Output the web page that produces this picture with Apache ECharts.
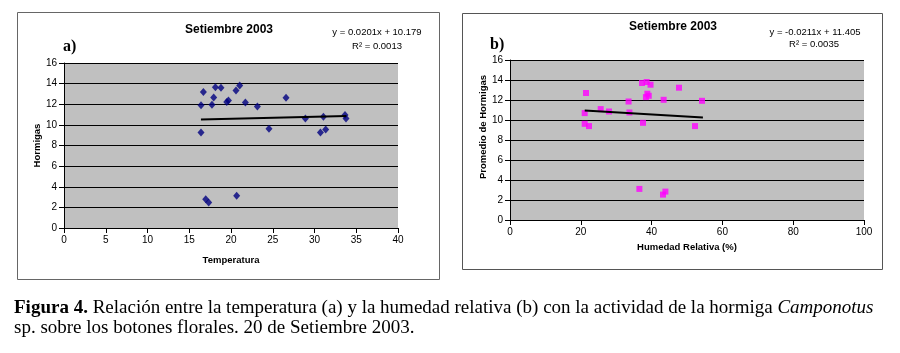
<!DOCTYPE html>
<html>
<head>
<meta charset="utf-8">
<script src="https://cdn.jsdelivr.net/npm/echarts@6/dist/echarts.min.js"></script>
<style>
  html, body { margin: 0; padding: 0; background: #fff; }
  #main { width: 900px; height: 353px; }
</style>
</head>
<body>
<div id="main"></div>
<script>
// a) temperatura vs hormigas
const tempPoints = [
  [16.41, 11.91], [16.69, 13.2], [16.41, 9.27], [17.72, 11.94], [17.93, 12.66],
  [18.13, 13.65], [18.8, 13.59], [19.49, 12.23], [19.69, 12.37], [20.6, 13.33],
  [21.04, 13.82], [21.72, 12.17], [23.16, 11.79], [24.55, 9.62], [26.59, 12.62],
  [28.91, 10.63], [31.07, 10.78], [30.71, 9.27], [31.34, 9.56], [33.65, 10.95],
  [33.77, 10.63], [16.97, 2.8], [17.33, 2.48], [20.68, 3.12]
];
const tempTrend = [[16.4, 10.51], [33.8, 10.86]];

// b) humedad relativa vs promedio de hormigas
const humPoints = [
  [21.47, 12.7], [21.1, 10.69], [21.1, 9.62], [22.32, 9.39], [25.62, 11.09],
  [27.97, 10.85], [33.5, 11.85], [33.73, 10.75], [37.3, 13.7], [37.57, 9.72],
  [38.6, 13.8], [39.7, 13.53], [38.8, 12.63], [39.2, 12.42], [38.4, 12.29],
  [43.4, 12.02], [47.74, 13.23], [52.26, 9.39], [54.24, 11.92], [36.55, 3.11],
  [43.22, 2.54], [43.9, 2.84]
];
const humTrend = [[21.1, 10.96], [54.5, 10.26]];

const yTicks = { min: 0, max: 16, interval: 2 };
const tempTicks = { min: 0, max: 40, interval: 5 };
const humTicks = { min: 0, max: 100, interval: 20 };

const sans = 'Liberation Sans, Arial, sans-serif';
const serif = 'Liberation Serif, Times New Roman, serif';

function valAxis(gridIndex, ticks, name, gap) {
  return {
    type: 'value', gridIndex: gridIndex,
    min: ticks.min, max: ticks.max, interval: ticks.interval,
    name: name, nameLocation: 'middle', nameGap: gap,
    nameTextStyle: { fontFamily: sans, fontWeight: 'bold', fontSize: 9.5, color: '#000' },
    axisLine: { show: true, lineStyle: { color: '#000', width: 1 } },
    axisTick: { show: true, length: 5, lineStyle: { color: '#000' } },
    axisLabel: { fontFamily: sans, fontSize: 10, color: '#000', margin: 7 },
    splitLine: { show: false }
  };
}

const chart = echarts.init(document.getElementById('main'));

let xa1 = valAxis(0, tempTicks, 'Temperatura', 27);
let xa2 = valAxis(1, humTicks, 'Humedad Relativa (%)', 22);
let ya1 = valAxis(0, yTicks, 'Hormigas', 22);
let ya2 = valAxis(1, yTicks, 'Promedio de Hormigas', 22);
ya1.splitLine = { show: true, lineStyle: { color: '#000', width: 1 } };
ya2.splitLine = { show: true, lineStyle: { color: '#000', width: 1 } };
ya2.nameTextStyle.padding = [0, 0, 0, 26];

let option = {
  backgroundColor: '#fff',
  animation: false,
  grid: [
    { left: 64, top: 63, width: 334, height: 165, show: true, backgroundColor: '#c0c0c0', borderWidth: 0 },
    { left: 510, top: 60, width: 354, height: 160, show: true, backgroundColor: '#c0c0c0', borderWidth: 0 }
  ],
  xAxis: [xa1, xa2],
  yAxis: [ya1, ya2],
  series: [
    {
      type: 'scatter', xAxisIndex: 0, yAxisIndex: 0,
      symbol: 'diamond', symbolSize: [7, 8],
      itemStyle: { color: '#000080' },
      data: tempPoints
    },
    {
      type: 'line', xAxisIndex: 0, yAxisIndex: 0,
      symbol: 'none', lineStyle: { color: '#000', width: 2 },
      data: tempTrend
    },
    {
      type: 'scatter', xAxisIndex: 1, yAxisIndex: 1,
      symbol: 'rect', symbolSize: 6,
      itemStyle: { color: '#ff00ff' },
      data: humPoints
    },
    {
      type: 'line', xAxisIndex: 1, yAxisIndex: 1,
      symbol: 'none', lineStyle: { color: '#000', width: 2 },
      data: humTrend
    }
  ],
  graphic: [
    // marcos
    { type: 'rect', shape: { x: 17.5, y: 12.5, width: 422, height: 267 }, style: { fill: null, stroke: '#666', lineWidth: 1 }, z: -1 },
    { type: 'rect', shape: { x: 462.5, y: 13.5, width: 420, height: 256 }, style: { fill: null, stroke: '#555', lineWidth: 1 }, z: -1 },
    // titulos
    { type: 'text', x: 229, y: 30, style: { text: 'Setiembre 2003', font: 'bold 12px ' + sans, fill: '#000', textAlign: 'center', textVerticalAlign: 'middle' } },
    { type: 'text', x: 673, y: 27, style: { text: 'Setiembre 2003', font: 'bold 12px ' + sans, fill: '#000', textAlign: 'center', textVerticalAlign: 'middle' } },
    { type: 'text', x: 63, y: 47, style: { text: 'a)', font: 'bold 16px ' + serif, fill: '#000', textVerticalAlign: 'middle' } },
    { type: 'text', x: 490, y: 45, style: { text: 'b)', font: 'bold 16px ' + serif, fill: '#000', textVerticalAlign: 'middle' } },
    // ecuaciones
    { type: 'text', x: 377, y: 32, style: { text: 'y = 0.0201x + 10.179', font: '9.5px ' + sans, fill: '#000', textAlign: 'center', textVerticalAlign: 'middle' } },
    { type: 'text', x: 377, y: 46, style: { text: 'R² = 0.0013', font: '9.5px ' + sans, fill: '#000', textAlign: 'center', textVerticalAlign: 'middle' } },
    { type: 'text', x: 815, y: 32, style: { text: 'y = -0.0211x + 11.405', font: '9.5px ' + sans, fill: '#000', textAlign: 'center', textVerticalAlign: 'middle' } },
    { type: 'text', x: 814, y: 44, style: { text: 'R² = 0.0035', font: '9.5px ' + sans, fill: '#000', textAlign: 'center', textVerticalAlign: 'middle' } },
    // pie de figura
    {
      type: 'text', x: 14, y: 308,
      style: {
        text: '{b|Figura 4.} Relación entre la temperatura (a) y la humedad relativa (b) con la actividad de la hormiga {i|Camponotus}',
        font: '19px ' + serif, fill: '#000', textVerticalAlign: 'middle',
        rich: {
          b: { fontFamily: serif, fontWeight: 'bold', fontSize: 19 },
          i: { fontFamily: serif, fontStyle: 'italic', fontSize: 19 }
        }
      }
    },
    { type: 'text', x: 14, y: 328, style: { text: 'sp. sobre los botones florales. 20 de Setiembre 2003.', font: '19px ' + serif, fill: '#000', textVerticalAlign: 'middle' } }
  ]
};
chart.setOption(option);
</script>
</body>
</html>
